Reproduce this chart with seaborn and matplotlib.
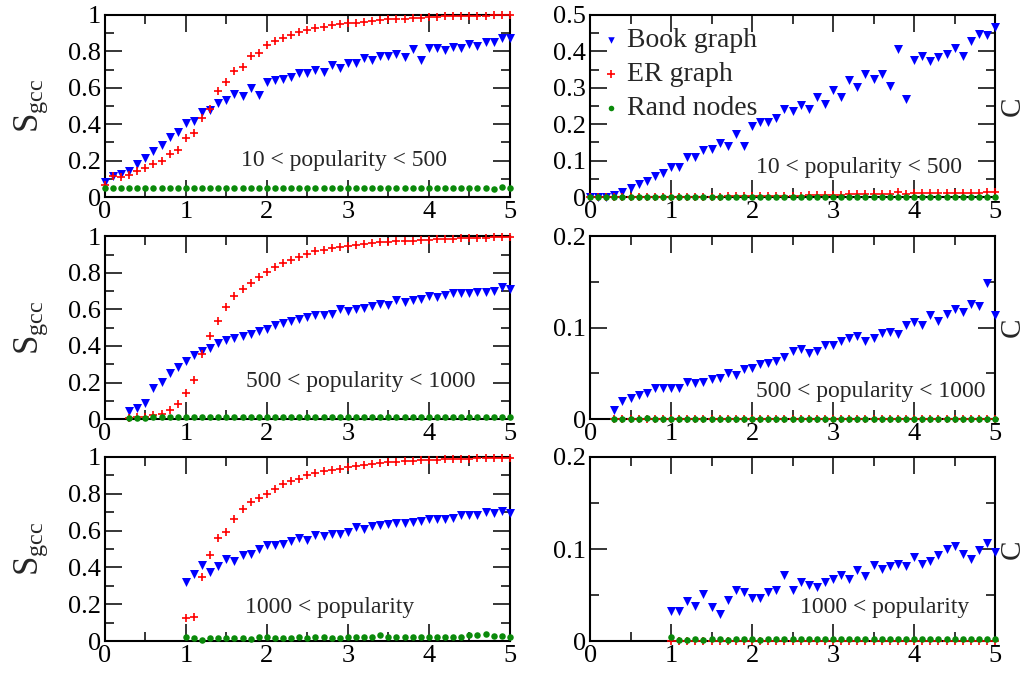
import numpy as np
import pandas as pd
import matplotlib
matplotlib.use("Agg")
import matplotlib.pyplot as plt
from matplotlib.ticker import MultipleLocator, FuncFormatter
import seaborn as sns

# ---------------- data ----------------
x_a = [0.0, 0.1, 0.2, 0.3, 0.4, 0.5, 0.6, 0.7, 0.8, 0.9, 1.0, 1.1, 1.2, 1.3, 1.4, 1.5, 1.6, 1.7,
       1.8, 1.9, 2.0, 2.1, 2.2, 2.3, 2.4, 2.5, 2.6, 2.7, 2.8, 2.9, 3.0, 3.1, 3.2, 3.3, 3.4, 3.5,
       3.6, 3.7, 3.8, 3.9, 4.0, 4.1, 4.2, 4.3, 4.4, 4.5, 4.6, 4.7, 4.8, 4.9, 5.0]
x_b = [0.3, 0.4, 0.5, 0.6, 0.7, 0.8, 0.9, 1.0, 1.1, 1.2, 1.3, 1.4, 1.5, 1.6, 1.7,
       1.8, 1.9, 2.0, 2.1, 2.2, 2.3, 2.4, 2.5, 2.6, 2.7, 2.8, 2.9, 3.0, 3.1, 3.2, 3.3, 3.4, 3.5,
       3.6, 3.7, 3.8, 3.9, 4.0, 4.1, 4.2, 4.3, 4.4, 4.5, 4.6, 4.7, 4.8, 4.9, 5.0]
x_c = [1.0, 1.1, 1.2, 1.3, 1.4, 1.5, 1.6, 1.7,
       1.8, 1.9, 2.0, 2.1, 2.2, 2.3, 2.4, 2.5, 2.6, 2.7, 2.8, 2.9, 3.0, 3.1, 3.2, 3.3, 3.4, 3.5,
       3.6, 3.7, 3.8, 3.9, 4.0, 4.1, 4.2, 4.3, 4.4, 4.5, 4.6, 4.7, 4.8, 4.9, 5.0]

# Panel 1: S_gcc, 10 < popularity < 500
s1_book = [0.08, 0.115, 0.125, 0.145, 0.18, 0.215, 0.255, 0.285, 0.33, 0.357, 0.405, 0.42, 0.468,
           0.477, 0.514, 0.53, 0.565, 0.556, 0.597, 0.56, 0.63, 0.643, 0.646, 0.657, 0.68, 0.683,
           0.698, 0.689, 0.727, 0.709, 0.738, 0.735, 0.764, 0.753, 0.772, 0.772, 0.783, 0.768,
           0.81, 0.75, 0.82, 0.82, 0.808, 0.823, 0.82, 0.838, 0.827, 0.849, 0.849, 0.873, 0.873]
s1_er = [0.068, 0.114, 0.11, 0.123, 0.142, 0.157, 0.182, 0.197, 0.238, 0.256, 0.326, 0.354, 0.436,
         0.482, 0.58, 0.63, 0.69, 0.716, 0.777, 0.79, 0.836, 0.856, 0.873, 0.889, 0.904, 0.915,
         0.926, 0.934, 0.947, 0.948, 0.956, 0.958, 0.963, 0.969, 0.97, 0.976, 0.978, 0.98, 0.983,
         0.985, 0.989, 0.99, 0.992, 0.992, 0.994, 0.994, 0.996, 0.996, 0.998, 0.998, 0.998]
s1_rand = [0.05, 0.05, 0.05, 0.05, 0.05, 0.05, 0.05, 0.05, 0.05, 0.05, 0.05, 0.05, 0.05, 0.05,
           0.05, 0.05, 0.05, 0.05, 0.05, 0.05, 0.05, 0.05, 0.05, 0.05, 0.05, 0.05, 0.05, 0.05,
           0.05, 0.05, 0.05, 0.05, 0.05, 0.05, 0.05, 0.05, 0.05, 0.05, 0.05, 0.05, 0.05, 0.05,
           0.05, 0.05, 0.05, 0.05, 0.05, 0.05, 0.042, 0.054, 0.048]

# Panel 2: C, 10 < popularity < 500
c1_book = [0.0, 0.0, 0.0, 0.005, 0.015, 0.026, 0.035, 0.044, 0.058, 0.067, 0.082, 0.082, 0.109,
           0.109, 0.13, 0.132, 0.149, 0.14, 0.173, 0.139, 0.196, 0.207, 0.205, 0.216, 0.241,
           0.236, 0.252, 0.241, 0.274, 0.256, 0.293, 0.275, 0.32, 0.302, 0.339, 0.324, 0.337,
           0.306, 0.406, 0.269, 0.377, 0.386, 0.374, 0.384, 0.393, 0.41, 0.386, 0.428, 0.447,
           0.446, 0.466]
c1_er = [0.0, 0.0, 0.0, 0.0, 0.0, 0.0, 0.0, 0.0, 0.0, 0.0, 0.001, 0.001, 0.001, 0.001, 0.001,
         0.001, 0.001, 0.002, 0.002, 0.002, 0.003, 0.003, 0.003, 0.003, 0.004, 0.004, 0.004,
         0.005, 0.005, 0.005, 0.006, 0.006, 0.007, 0.007, 0.008, 0.008, 0.008, 0.009, 0.015,
         0.009, 0.01, 0.01, 0.01, 0.011, 0.011, 0.011, 0.012, 0.012, 0.012, 0.013, 0.013]
c1_rand = [0.0] * 51

# Panel 3: S_gcc, 500 < popularity < 1000
s2_book = [0.045, 0.06, 0.087, 0.172, 0.205, 0.25, 0.283, 0.318, 0.35, 0.372, 0.39, 0.414, 0.432,
           0.441, 0.454, 0.468, 0.481, 0.495, 0.514, 0.528, 0.535, 0.546, 0.559, 0.572, 0.568,
           0.577, 0.603, 0.59, 0.6, 0.608, 0.617, 0.63, 0.622, 0.652, 0.642, 0.652, 0.659, 0.672,
           0.666, 0.68, 0.688, 0.69, 0.688, 0.695, 0.695, 0.702, 0.72, 0.713]
s2_er = [0.005, 0.013, 0.013, 0.02, 0.03, 0.05, 0.083, 0.14, 0.214, 0.354, 0.454, 0.537, 0.613,
         0.671, 0.713, 0.746, 0.777, 0.804, 0.83, 0.855, 0.871, 0.889, 0.904, 0.917, 0.926,
         0.935, 0.939, 0.946, 0.953, 0.955, 0.962, 0.966, 0.969, 0.973, 0.975, 0.976, 0.978,
         0.98, 0.984, 0.986, 0.987, 0.989, 0.991, 0.993, 0.993, 0.995, 0.995, 0.998]
s2_rand = [0.005, 0.006, 0.008, 0.009, 0.011, 0.01, 0.009, 0.011, 0.012, 0.01, 0.01, 0.01, 0.01,
           0.01, 0.01, 0.01, 0.01, 0.01, 0.01, 0.01, 0.01, 0.01, 0.01, 0.01, 0.01, 0.01, 0.01,
           0.01, 0.01, 0.01, 0.01, 0.01, 0.01, 0.01, 0.01, 0.01, 0.01, 0.01, 0.01, 0.01, 0.01,
           0.01, 0.01, 0.01, 0.01, 0.01, 0.01, 0.01]

# Panel 4: C, 500 < popularity < 1000
c2_book = [0.0102, 0.02, 0.023, 0.026, 0.029, 0.034, 0.034, 0.034, 0.034, 0.041, 0.039, 0.041,
           0.044, 0.045, 0.05, 0.048, 0.055, 0.056, 0.06, 0.061, 0.063, 0.068, 0.074, 0.077,
           0.072, 0.075, 0.081, 0.081, 0.085, 0.089, 0.091, 0.085, 0.089, 0.094, 0.095, 0.093,
           0.103, 0.106, 0.103, 0.114, 0.107, 0.115, 0.12, 0.117, 0.126, 0.124, 0.149, 0.114]
c2_er = [0.0] * 48
c2_rand = [0.0, 0.0, 0.0, 0.0, 0.001, 0.0, 0.0, 0.0, 0.0, 0.0, 0.0, 0.0, 0.0, 0.0, 0.0, 0.0,
           0.0, 0.0, 0.0, 0.0, 0.0, 0.0, 0.0, 0.0, 0.0, 0.0, 0.0, 0.0, 0.0, 0.0, 0.0, 0.0, 0.0,
           0.0, 0.0, 0.0, 0.0, 0.0, 0.0, 0.0, 0.0, 0.0, 0.0, 0.0, 0.0, 0.0, 0.0, 0.0]

# Panel 5: S_gcc, 1000 < popularity
s3_book = [0.32, 0.362, 0.411, 0.375, 0.408, 0.444, 0.437, 0.466, 0.475, 0.498, 0.52, 0.52, 0.529,
           0.542, 0.56, 0.551, 0.578, 0.569, 0.583, 0.582, 0.592, 0.62, 0.61, 0.625, 0.629,
           0.638, 0.641, 0.641, 0.647, 0.65, 0.661, 0.661, 0.665, 0.668, 0.683, 0.683, 0.687,
           0.701, 0.697, 0.708, 0.697]
s3_er = [0.125, 0.13, 0.348, 0.469, 0.56, 0.592, 0.661, 0.719, 0.755, 0.779, 0.801, 0.828, 0.855,
         0.868, 0.882, 0.9, 0.913, 0.922, 0.931, 0.937, 0.944, 0.951, 0.958, 0.962, 0.967,
         0.973, 0.975, 0.978, 0.98, 0.982, 0.984, 0.986, 0.987, 0.989, 0.991, 0.991, 0.993,
         0.993, 0.995, 0.995, 0.995]
s3_rand = [0.025, 0.016, 0.007, 0.016, 0.016, 0.016, 0.016, 0.016, 0.013, 0.02, 0.025, 0.016,
           0.018, 0.018, 0.022, 0.018, 0.02, 0.02, 0.018, 0.018, 0.02, 0.022, 0.02, 0.024, 0.031,
           0.022, 0.022, 0.022, 0.02, 0.022, 0.022, 0.02, 0.02, 0.02, 0.024, 0.033, 0.031, 0.038,
           0.027, 0.027, 0.02]

# Panel 6: C, 1000 < popularity
c3_book = [0.0326, 0.0326, 0.0435, 0.0377, 0.0514, 0.037, 0.0297, 0.0442, 0.055, 0.0533, 0.0467,
           0.0467, 0.0533, 0.055, 0.0721, 0.0558, 0.0641, 0.0605, 0.0583, 0.0641, 0.0678, 0.0714,
           0.0678, 0.0768, 0.0707, 0.0822, 0.0786, 0.0812, 0.0833, 0.0815, 0.0913, 0.0841,
           0.0866, 0.0931, 0.1004, 0.1033, 0.0949, 0.0895, 0.0986, 0.1065, 0.0967]
c3_er = [0.0] * 41
c3_rand = [0.004, 0.001, 0.001, 0.002, 0.001, 0.002, 0.002, 0.001, 0.002, 0.002, 0.002, 0.001,
           0.002, 0.002, 0.002, 0.002, 0.002, 0.002, 0.002, 0.002, 0.002, 0.002, 0.002, 0.002,
           0.002, 0.002, 0.002, 0.002, 0.002, 0.002, 0.002, 0.002, 0.002, 0.002, 0.002, 0.002,
           0.002, 0.002, 0.002, 0.002, 0.002]

series_names = ["Book graph", "ER graph", "Rand nodes"]
panel_titles = ["10 < popularity < 500", "500 < popularity < 1000", "1000 < popularity"]

# ---------------- style ----------------
sns.set_theme(style="ticks")
plt.rcParams["font.family"] = ["Liberation Serif", "DejaVu Serif"]
plt.rcParams["mathtext.fontset"] = "custom"
plt.rcParams["mathtext.rm"] = "Liberation Serif"
plt.rcParams["mathtext.it"] = "Liberation Serif:italic"

colors = {"Book graph": "#0000ff", "ER graph": "#ff0000", "Rand nodes": "#0a8a0a"}
markers = {"Book graph": "v", "ER graph": "+", "Rand nodes": "o"}
sizes = {"Book graph": 42, "ER graph": 34, "Rand nodes": 22}
legend_sizes = {"Book graph": 22, "ER graph": 30, "Rand nodes": 16}

fig = plt.figure(figsize=(10.28, 6.77), dpi=100)

left_x, right_x, w = 0.102, 0.574, 0.394
rows = [(0.709, 0.269), (0.381, 0.270), (0.053, 0.272)]

panels = [
    (x_a, s1_book, s1_er, s1_rand, x_a, c1_book, c1_er, c1_rand, (2.95, 0.2), (3.32, 0.082)),
    (x_b, s2_book, s2_er, s2_rand, x_b, c2_book, c2_er, c2_rand, (3.16, 0.205), (3.47, 0.030)),
    (x_c, s3_book, s3_er, s3_rand, x_c, c3_book, c3_er, c3_rand, (2.77, 0.18), (3.63, 0.036)),
]

fmt = FuncFormatter(lambda v, p: ("%g" % round(v, 3)))


def style_axes(ax, ymax, ymajor, yminor):
    ax.set_xlim(0, 5)
    ax.set_ylim(0, ymax)
    ax.xaxis.set_major_locator(MultipleLocator(1))
    ax.xaxis.set_minor_locator(MultipleLocator(0.5))
    ax.yaxis.set_major_locator(MultipleLocator(ymajor))
    ax.yaxis.set_minor_locator(MultipleLocator(yminor))
    ax.xaxis.set_major_formatter(fmt)
    ax.yaxis.set_major_formatter(fmt)
    ax.tick_params(which="both", direction="in", top=True, right=True,
                   labelsize=19, colors="black", width=1.1, pad=3)
    ax.tick_params(which="major", length=12)
    ax.tick_params(which="minor", length=6.5)
    for sp in ax.spines.values():
        sp.set_visible(True)
        sp.set_linewidth(1.5)
        sp.set_color("black")
    ax.set_xlabel("")


def draw(ax, x, book, er, rand, legend=False):
    df = pd.DataFrame({
        "x": list(x) * 3,
        "y": list(book) + list(er) + list(rand),
        "series": [series_names[0]] * len(x) + [series_names[1]] * len(x) + [series_names[2]] * len(x),
    })
    for name in series_names:
        sub = df[df["series"] == name]
        lw = 1.2 if name == "ER graph" else 0
        sns.scatterplot(data=sub, x="x", y="y", ax=ax, marker=markers[name],
                        color=colors[name], s=sizes[name], linewidth=lw,
                        edgecolor=colors[name] if name != "ER graph" else None,
                        label=name if legend else None, legend=legend, clip_on=False, zorder=3)


for i, (xl, sb, se, sr, xr, cb, ce, cr, tl, tr) in enumerate(panels):
    bottom, h = rows[i]
    axl = fig.add_axes([left_x, bottom, w, h])
    axr = fig.add_axes([right_x, bottom, w, h])

    draw(axl, xl, sb, se, sr)
    draw(axr, xr, cb, ce, cr, legend=(i == 0))

    style_axes(axl, 1.0, 0.2, 0.1)
    if i == 0:
        style_axes(axr, 0.5, 0.1, 0.05)
    else:
        style_axes(axr, 0.2, 0.1, 0.05)

    axl.set_ylabel(r"S$_{\rm gcc}$", fontsize=25, labelpad=13)
    axr.set_ylabel("C", fontsize=21, labelpad=3)
    axr.yaxis.set_label_position("right")

    axl.text(tl[0], tl[1], panel_titles[i], fontsize=17, ha="center", va="center")
    axr.text(tr[0], tr[1], panel_titles[i], fontsize=17, ha="center", va="center")

    if i == 0:
        leg = axr.legend(loc="upper left", bbox_to_anchor=(-0.025, 1.02), frameon=False,
                         fontsize=20, handletextpad=0.1, labelspacing=0.3,
                         handlelength=1.0, borderaxespad=0.2)
        for hnd, txt in zip(leg.legend_handles, leg.get_texts()):
            name = txt.get_text()
            hnd.set_sizes([legend_sizes[name]])
            if name == "ER graph":
                hnd.set_linewidth(1.2)

fig.savefig("out.png", dpi=100)
